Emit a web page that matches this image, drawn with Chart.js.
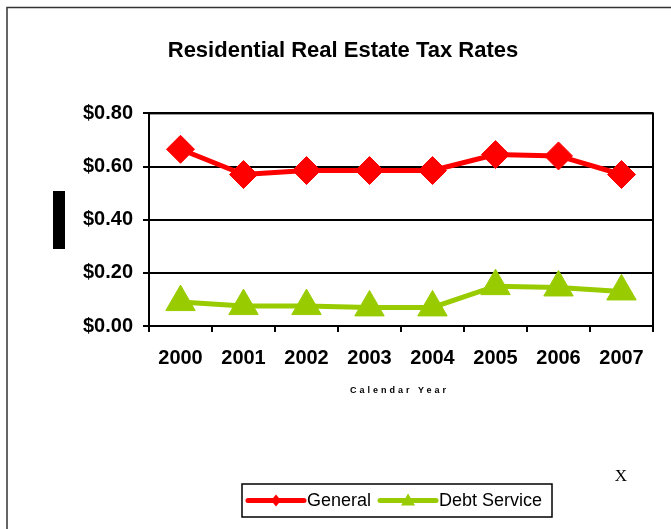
<!DOCTYPE html>
<html>
<head>
<meta charset="utf-8">
<script src="https://cdn.jsdelivr.net/npm/chart.js@4/dist/chart.umd.min.js"></script>
<style>
    html, body { margin: 0; padding: 0; background: #fff; }
    canvas { display: block; }
</style>
</head>
<body>
<canvas id="taxChart" width="671" height="529"></canvas>
<script>
const years = ['2000', '2001', '2002', '2003', '2004', '2005', '2006', '2007'];
const general = [0.665, 0.57, 0.585, 0.585, 0.585, 0.645, 0.64, 0.57];
const debtService = [0.09, 0.075, 0.075, 0.07, 0.07, 0.15, 0.145, 0.13];
const yMin = 0;
const yMax = 0.8;
const yStep = 0.2;

const sans = "'Liberation Sans', Arial, sans-serif";

// frame, plot box, axis caption and the boxed legend
const extras = {
    id: 'extras',
    beforeDatasetsDraw(chart) {
        const { ctx, chartArea: a } = chart;
        ctx.save();
        ctx.strokeStyle = '#000';
        ctx.lineWidth = 2;
        ctx.strokeRect(a.left, a.top, a.right - a.left, a.bottom - a.top);
        ctx.restore();
    },
    afterDraw(chart) {
        const ctx = chart.ctx;
        ctx.save();

        // outer frame (top and left edges only)
        ctx.strokeStyle = '#333';
        ctx.lineWidth = 1.5;
        ctx.beginPath();
        ctx.moveTo(7, 529);
        ctx.lineTo(7, 7.5);
        ctx.lineTo(671, 7.5);
        ctx.stroke();

        ctx.fillStyle = '#000';
        ctx.fillRect(53, 191, 12, 58);

        // x axis caption, spaced out
        ctx.font = 'bold 9px ' + sans;
        ctx.letterSpacing = '3px';
        ctx.textBaseline = 'middle';
        ctx.textAlign = 'left';
        const cap = 'Calendar Year';
        const cw = ctx.measureText(cap).width - 3;
        ctx.fillText(cap, 398 - cw / 2, 391);
        ctx.letterSpacing = '0px';

        ctx.font = "17px 'Liberation Serif', 'Times New Roman', serif";
        ctx.textAlign = 'center';
        ctx.fillText('X', 621, 477);

        // legend
        ctx.lineWidth = 1.5;
        ctx.strokeStyle = '#000';
        ctx.strokeRect(242, 484, 310, 33);
        ctx.font = '18px ' + sans;
        ctx.textAlign = 'left';
        let x = 248;
        const y = 500.5;
        chart.data.datasets.forEach(ds => {
            ctx.strokeStyle = ds.borderColor;
            ctx.lineWidth = 5;
            ctx.lineCap = 'round';
            ctx.beginPath();
            ctx.moveTo(x, y);
            ctx.lineTo(x + 56, y);
            ctx.stroke();
            ctx.fillStyle = ds.borderColor;
            const mx = x + 28;
            ctx.beginPath();
            if (ds.pointStyle === 'rectRot') {
                ctx.moveTo(mx, y - 6);
                ctx.lineTo(mx + 5, y);
                ctx.lineTo(mx, y + 6);
                ctx.lineTo(mx - 5, y);
            } else {
                ctx.moveTo(mx, y - 7);
                ctx.lineTo(mx + 7, y + 5);
                ctx.lineTo(mx - 7, y + 5);
            }
            ctx.closePath();
            ctx.fill();
            ctx.fillStyle = '#000';
            ctx.fillText(ds.label, x + 59, y + 1);
            x += 59 + ctx.measureText(ds.label).width + 9;
        });
        ctx.restore();
    }
};

new Chart(document.getElementById('taxChart'), {
    type: 'line',
    data: {
        labels: years,
        datasets: [{
            label: 'General',
            data: general,
            borderColor: '#ff0000',
            backgroundColor: '#ff0000',
            borderWidth: 5,
            pointStyle: 'rectRot',
            pointRadius: 14,
            pointBorderWidth: 1,
            tension: 0
        }, {
            label: 'Debt Service',
            data: debtService,
            borderColor: '#99cc00',
            backgroundColor: '#99cc00',
            borderWidth: 5,
            pointStyle: 'triangle',
            pointRadius: 17,
            pointBorderWidth: 1,
            tension: 0
        }]
    },
    options: {
        responsive: false,
        animation: false,
        devicePixelRatio: 1,
        layout: { padding: { left: 31, right: 16, top: 0, bottom: 0 } },
        plugins: {
            legend: { display: false },
            tooltip: { enabled: false },
            title: {
                display: true,
                text: 'Residential Real Estate Tax Rates',
                color: '#000',
                font: { family: sans, size: 22, weight: 'bold' },
                padding: { top: 38, bottom: 49 }
            }
        },
        scales: {
            x: {
                offset: true,
                grid: { offset: true, drawOnChartArea: false, color: '#000', lineWidth: 2, tickLength: 6 },
                border: { color: '#000', width: 2 },
                ticks: { color: '#000', font: { family: sans, size: 20, weight: 'bold' }, padding: 14, maxRotation: 0 },
                afterFit: s => { s.height = 203; }
            },
            y: {
                min: yMin,
                max: yMax,
                grid: { color: '#000', lineWidth: 2, tickLength: 6 },
                border: { color: '#000', width: 2 },
                ticks: {
                    stepSize: yStep,
                    color: '#000',
                    font: { family: sans, size: 20, weight: 'bold' },
                    padding: 10,
                    callback: v => '$' + v.toFixed(2)
                },
                afterFit: s => { s.width = 118; }
            }
        }
    },
    plugins: [extras]
});
</script>
</body>
</html>
